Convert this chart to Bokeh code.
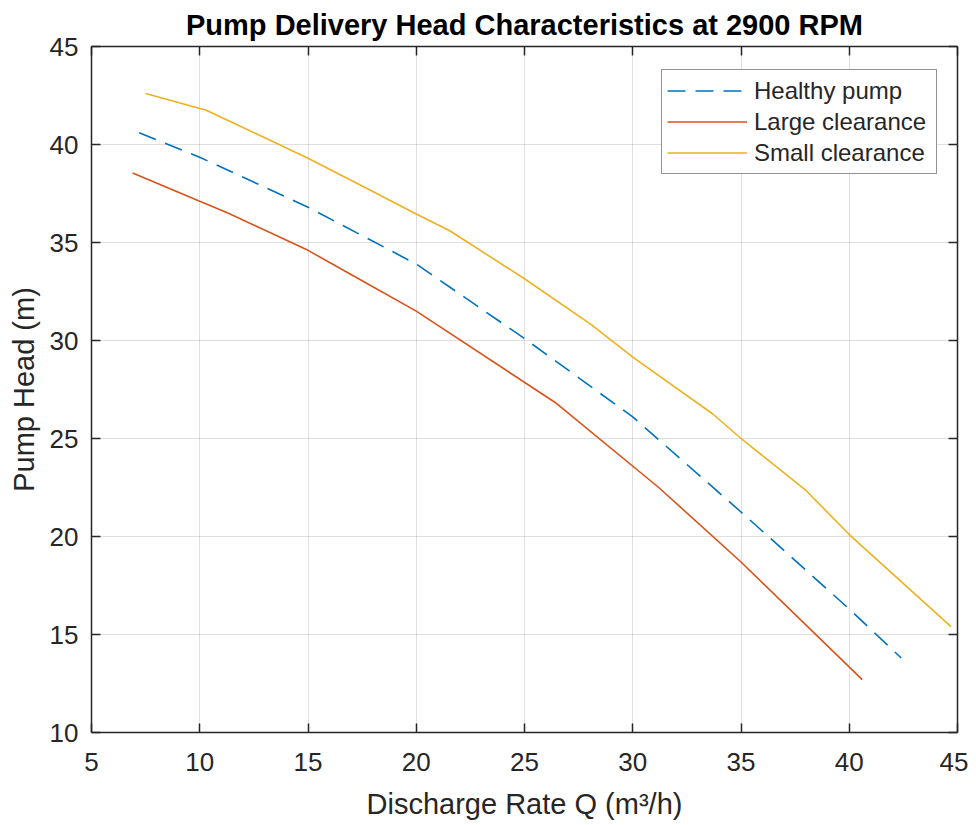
from bokeh.plotting import figure
from bokeh.models import LinearAxis, Range1d, Legend, LegendItem, FixedTicker, ColumnDataSource, CustomJSTickFormatter
from bokeh.embed import file_html
from bokeh.resources import INLINE

# ---- data ----
healthy_q = [7.2, 10, 15, 20, 25, 30, 35, 40, 42.4]
healthy_h = [40.6, 39.35, 36.8, 33.9, 30.1, 26.1, 21.25, 16.3, 13.8]

large_q = [6.9, 10, 11.3, 15, 17.5, 20, 26.4, 31.2, 35, 40.6]
large_h = [38.55, 37.1, 36.5, 34.6, 33.05, 31.5, 26.85, 22.5, 18.7, 12.7]

small_q = [7.5, 10.3, 15, 17.3, 20, 21.55, 25, 28.1, 30, 33.7, 35, 38, 40, 44.7]
small_h = [42.6, 41.75, 39.3, 38.0, 36.45, 35.6, 33.15, 30.8, 29.15, 26.25, 25.0, 22.35, 20.1, 15.4]

x_ticks = [5, 10, 15, 20, 25, 30, 35, 40, 45]
y_ticks = [10, 15, 20, 25, 30, 35, 40, 45]

series_names = ["Healthy pump", "Large clearance", "Small clearance"]
series_colors = ["#0072BD", "#D95319", "#EDB120"]

title_text = "Pump Delivery Head Characteristics at 2900 RPM"
x_label = "Discharge Rate Q (m\u00b3/h)"
y_label = "Pump Head (m)"

FONT = "Liberation Sans"
AX = "#262626"

p = figure(frame_width=866, frame_height=686, x_range=Range1d(5, 45), y_range=Range1d(10, 45),
           output_backend="svg", toolbar_location=None,
           min_border_left=91, min_border_right=11, min_border_top=46, min_border_bottom=0,
           background_fill_color="white", border_fill_color="white")

p.title.text = title_text
p.title.align = "center"
p.title.text_font = FONT
p.title.text_font_size = "29px"
p.title.text_font_style = "bold"
p.title.text_color = "#000000"
p.title.standoff = 12

p.outline_line_color = None

def style_axis(ax, show_labels=True):
    ax.axis_line_color = AX
    ax.axis_line_width = 1.5
    ax.major_tick_line_color = AX
    ax.major_tick_line_width = 1.5
    ax.major_tick_in = 9
    ax.major_tick_out = 0
    ax.minor_tick_line_color = None
    ax.major_label_text_font = FONT
    ax.major_label_text_font_size = "26px"
    ax.major_label_text_color = AX
    ax.axis_label_text_font = FONT
    ax.axis_label_text_font_size = "29px"
    ax.axis_label_text_font_style = "normal"
    ax.axis_label_text_color = AX
    if not show_labels:
        ax.major_label_text_font_size = "0px"
        ax.major_label_standoff = 0
        ax.axis_label_standoff = 0
        ax.formatter = CustomJSTickFormatter(code="return '';")

p.xaxis.ticker = FixedTicker(ticks=x_ticks)
p.yaxis.ticker = FixedTicker(ticks=y_ticks)
style_axis(p.xaxis[0])
style_axis(p.yaxis[0])
p.xaxis.axis_label = x_label
p.yaxis.axis_label = y_label
p.xaxis.major_label_standoff = 20
p.yaxis.major_label_standoff = 13
p.xaxis.axis_label_standoff = 14
p.yaxis.axis_label_standoff = 7

top_ax = LinearAxis(ticker=FixedTicker(ticks=x_ticks))
right_ax = LinearAxis(ticker=FixedTicker(ticks=y_ticks))
style_axis(top_ax, False)
style_axis(right_ax, False)
p.add_layout(top_ax, "above")
p.add_layout(right_ax, "right")

p.grid.grid_line_color = AX
p.grid.grid_line_alpha = 0.15
p.grid.grid_line_width = 1
p.xgrid.ticker = FixedTicker(ticks=x_ticks)
p.ygrid.ticker = FixedTicker(ticks=y_ticks)

src_h = ColumnDataSource(dict(q=healthy_q, h=healthy_h))
src_l = ColumnDataSource(dict(q=large_q, h=large_h))
src_s = ColumnDataSource(dict(q=small_q, h=small_h))

r1 = p.line("q", "h", source=src_h, line_color=series_colors[0], line_width=1.6, line_dash="18 10")
r2 = p.line("q", "h", source=src_l, line_color=series_colors[1], line_width=1.6)
r3 = p.line("q", "h", source=src_s, line_color=series_colors[2], line_width=1.6)

legend = Legend(items=[LegendItem(label=series_names[0], renderers=[r1]),
                       LegendItem(label=series_names[1], renderers=[r2]),
                       LegendItem(label=series_names[2], renderers=[r3])],
                location=(570, 558))
legend.label_text_font = FONT
legend.label_text_font_size = "24px"
legend.label_text_color = AX
legend.glyph_width = 80
legend.glyph_height = 31
legend.label_height = 31
legend.label_width = 177
legend.label_standoff = 7
legend.spacing = 0
legend.padding = 5
legend.margin = 0
legend.border_line_color = AX
legend.border_line_width = 1.5
legend.background_fill_color = "white"
legend.background_fill_alpha = 1
p.add_layout(legend, "center")

open("out.html", "w").write(file_html(p, INLINE))
